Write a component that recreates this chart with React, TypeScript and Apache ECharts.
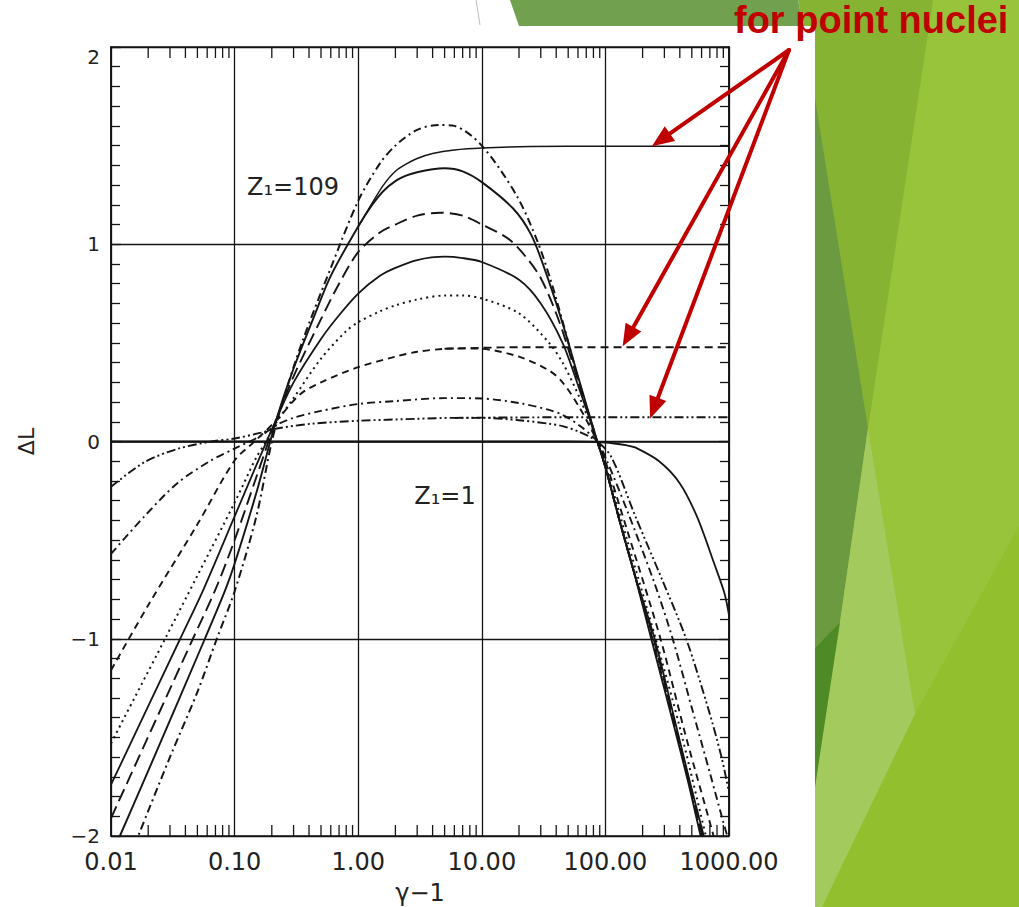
import React, { useEffect, useRef } from 'react';
import * as echarts from 'echarts';

// ---- tick labels ----
const xTickLabels = ['0.01', '0.10', '1.00', '10.00', '100.00', '1000.00'];
const yTickLabels = ['\u22122', '\u22121', '0', '1', '2'];
const xDecades = [0.01, 0.1, 1, 10, 100];
const xMinorMultipliers = [2, 3, 4, 5, 6, 7, 8, 9];

// ---- curves: [gamma-1, deltaL] ----
const zOne = [[0.01, 0], [1, 0], [50, 0], [100, -0.005], [150, -0.02], [174, -0.03], [272, -0.1], [398, -0.21], [550, -0.38], [760, -0.62], [920, -0.77], [1000, -0.88]];
const dashDotDot = [[0.01, -0.23], [0.0186, -0.105], [0.0347, -0.037], [0.065, 0], [0.1, 0.015], [0.164, 0.045], [0.22, 0.066], [0.42, 0.09], [1, 0.105], [3, 0.115], [6, 0.12], [10, 0.12], [20, 0.108], [35, 0.09], [45, 0.078], [62, 0.048], [86, 0], [112, -0.08], [175, -0.38], [292, -0.71], [450, -1.0], [676, -1.35], [870, -1.6], [1000, -1.78]];
const dashDot = [[0.01, -0.57], [0.0186, -0.38], [0.0346, -0.21], [0.0645, -0.096], [0.1, -0.036], [0.164, 0.03], [0.22, 0.085], [0.3, 0.12], [0.5, 0.155], [1, 0.19], [2, 0.205], [5, 0.22], [10, 0.218], [20, 0.195], [35, 0.16], [45, 0.135], [62, 0.08], [86, 0], [100, -0.08], [150, -0.35], [250, -0.72], [350, -1.0], [500, -1.35], [700, -1.68], [900, -1.93], [1000, -2.03]];
const dashed = [[0.01, -1.16], [0.02, -0.83], [0.05, -0.42], [0.1, -0.096], [0.145, 0], [0.22, 0.11], [0.34, 0.24], [0.5, 0.3], [1, 0.377], [2, 0.43], [3, 0.455], [5, 0.47], [7, 0.472], [10, 0.47], [20, 0.43], [35, 0.36], [45, 0.3], [62, 0.17], [86, 0], [100, -0.1], [150, -0.45], [279, -1.0], [450, -1.5], [750, -2.0], [800, -2.08]];
const dotted = [[0.01, -1.53], [0.0274, -1.0], [0.05, -0.68], [0.1, -0.31], [0.15, -0.08], [0.18, 0.0], [0.22, 0.1], [0.3, 0.22], [0.5, 0.42], [0.8, 0.56], [1, 0.605], [1.5, 0.66], [2, 0.69], [3, 0.72], [5, 0.74], [7, 0.74], [10, 0.725], [20, 0.65], [35, 0.5], [45, 0.4], [62, 0.22], [86, 0], [100, -0.12], [150, -0.5], [255, -1.0], [400, -1.45], [650, -2.0], [700, -2.08]];
const solidMid = [[0.01, -1.74], [0.0363, -1.0], [0.0556, -0.755], [0.1, -0.38], [0.15, -0.12], [0.22, 0.12], [0.3, 0.3], [0.5, 0.52], [0.7, 0.64], [1, 0.75], [1.5, 0.84], [2, 0.88], [3, 0.92], [5, 0.937], [7, 0.93], [10, 0.91], [20, 0.82], [30, 0.7], [45, 0.5], [62, 0.26], [86, 0], [100, -0.13], [130, -0.4], [170, -0.66], [250, -1.0], [360, -1.4], [480, -1.72], [625, -2.0], [680, -2.1]];
const longDash = [[0.01, -1.91], [0.046, -1.0], [0.0695, -0.755], [0.1, -0.5], [0.15, -0.18], [0.22, 0.12], [0.3, 0.33], [0.5, 0.62], [0.7, 0.8], [1, 0.96], [1.5, 1.06], [2, 1.1], [3, 1.145], [4.6, 1.16], [7, 1.145], [10, 1.1], [17, 1.02], [28, 0.86], [36, 0.72], [45, 0.56], [62, 0.28], [86, 0], [100, -0.13], [130, -0.4], [170, -0.66], [245, -1.0], [355, -1.4], [475, -1.72], [610, -2.0], [670, -2.1]];
const solidHigh = [[0.0105, -2.07], [0.0118, -2], [0.02, -1.67], [0.0575, -1.0], [0.0838, -0.755], [0.1, -0.62], [0.15, -0.26], [0.22, 0.12], [0.3, 0.37], [0.45, 0.65], [0.6, 0.84], [1, 1.09], [1.3, 1.2], [1.6, 1.27], [2, 1.32], [2.5, 1.35], [3, 1.365], [4, 1.38], [5, 1.385], [7, 1.37], [10, 1.315], [18, 1.18], [25, 1.05], [32, 0.88], [45, 0.6], [62, 0.3], [86, 0], [100, -0.13], [130, -0.4], [170, -0.66], [235, -1.0], [345, -1.4], [465, -1.72], [590, -2.0], [650, -2.1]];
const dashDotTop = [[0.0155, -2.05], [0.0166, -2], [0.03, -1.6], [0.05, -1.27], [0.0718, -1.0], [0.1, -0.76], [0.15, -0.38], [0.2, 0.0], [0.25, 0.22], [0.35, 0.5], [0.6, 0.88], [1, 1.22], [1.5, 1.41], [2, 1.5], [3, 1.58], [4.5, 1.605], [6, 1.6], [10, 1.5], [19, 1.25], [28, 1.02], [36, 0.82], [45, 0.61], [62, 0.29], [86, 0], [100, -0.13], [130, -0.4], [170, -0.66], [240, -1.0], [350, -1.4], [470, -1.72], [600, -2.0], [660, -2.1]];
// point-nuclei continuations
const pointLow = [[6, 0.12], [10, 0.121], [20, 0.122], [50, 0.123], [1000, 0.123]];
const pointMid = [[5, 0.47], [10, 0.475], [20, 0.478], [50, 0.478], [1000, 0.478]];
const pointHigh = [[1, 1.09], [1.3, 1.21], [1.6, 1.3], [2, 1.37], [2.5, 1.41], [3, 1.435], [4, 1.46], [6, 1.478], [10, 1.488], [25, 1.495], [100, 1.497], [1000, 1.497]];

// annotation anchors (data coords)
const arrowTargets = [[238, 1.497], [138, 0.483], [230, 0.117]];
const zLabels = [{ text: 'Z\u2081=109', at: [0.297, 1.288] }, { text: 'Z\u2081=1', at: [5.04, -0.274] }];

const INK = '#151515';
const RED = '#c00000';

const curveDefs = [
  { name: 'Z1=1', data: zOne, type: 'solid', width: 1.8 },
  { name: 'c2', data: dashDotDot, type: [9, 3, 2, 3, 2, 3], width: 1.9 },
  { name: 'c3', data: dashDot, type: [8, 4, 2, 4], width: 1.9 },
  { name: 'c4', data: dashed, type: [7, 5], width: 1.9 },
  { name: 'c5', data: dotted, type: [2, 4], width: 2 },
  { name: 'c6', data: solidMid, type: 'solid', width: 1.8 },
  { name: 'c7', data: longDash, type: [13, 6], width: 1.9 },
  { name: 'c8', data: solidHigh, type: 'solid', width: 1.9 },
  { name: 'c9', data: dashDotTop, type: [8, 4, 2, 4], width: 2 },
  { name: 'p2', data: pointLow, type: [9, 3, 2, 3, 2, 3], width: 1.9 },
  { name: 'p4', data: pointMid, type: [8, 5], width: 1.9 },
  { name: 'p8', data: pointHigh, type: 'solid', width: 1.5 },
];

const bgPolys = [
  { points: [[815, 0], [1019, 0], [1019, 907], [815, 907]], fill: '#92bf2e' },
  { points: [[933, 0], [1019, 0], [1019, 526], [915, 714], [890, 561], [868, 428]], fill: '#98c43c' },
  { points: [[798, 0], [933, 0], [868, 428], [815, 98], [815, 26], [803, 26]], fill: '#86b332' },
  { points: [[815, 98], [868, 428], [840, 622], [815, 648]], fill: '#6b9a41' },
  { points: [[868, 428], [890, 561], [915, 714], [822, 907], [815, 907], [815, 787], [840, 622]], fill: '#a2ca5d' },
  { points: [[815, 648], [840, 622], [815, 787]], fill: '#4e8a25' },
  { points: [[510, 0], [798, 0], [803, 26], [519, 26]], fill: '#71a04e' },
];

export default function App() {
  const ref = useRef<HTMLDivElement>(null);
  useEffect(() => {
    if (!ref.current) return;
    const chart = echarts.init(ref.current, undefined, { renderer: 'svg' });
    const xMinorTicks = xDecades.flatMap((d) => xMinorMultipliers.map((m) => +(d * m).toPrecision(3)));
    const font = 'DejaVu Sans';

    const yAxisBase = {
      type: 'value',
      min: -2,
      max: 2,
      interval: 1,
      axisLine: { show: true, lineStyle: { color: INK, width: 1.6 } },
      axisTick: { show: true, inside: true, length: 10, lineStyle: { color: INK, width: 1.3 } },
      minorTick: { show: true, splitNumber: 10, length: 9, lineStyle: { color: INK, width: 1.3 } },
    };

    const option: any = {
      animation: false,
      backgroundColor: '#ffffff',
      grid: { left: 111, top: 47, width: 618, height: 789, outerBoundsMode: 'none', containLabel: false, show: true, borderColor: INK, borderWidth: 1.6, backgroundColor: 'transparent' },
      xAxis: {
        type: 'log',
        logBase: 10,
        min: 0.01,
        max: 1000,
        axisLine: { show: true, lineStyle: { color: INK, width: 1.6 } },
        axisTick: { show: false },
        splitLine: { show: true, lineStyle: { color: INK, width: 1.3 } },
        axisLabel: {
          fontSize: 24,
          fontFamily: font,
          color: '#222',
          margin: 14,
          formatter: (v: number) => xTickLabels[Math.round(Math.log10(v)) + 2] ?? '',
        },
        name: '\u03b3\u22121',
        nameLocation: 'middle',
        nameGap: 45,
        nameTextStyle: { fontSize: 24, fontFamily: font, color: '#222' },
      },
      yAxis: [
        {
          ...yAxisBase,
          position: 'left',
          splitLine: { show: true, lineStyle: { color: INK, width: 1.3 } },
          axisLabel: {
            fontSize: 20,
            fontFamily: font,
            color: '#222',
            margin: 11,
            verticalAlignMaxLabel: 'top',
            formatter: (v: number) => yTickLabels[Math.round(v) + 2] ?? '',
          },
          name: '\u0394L',
          nameLocation: 'middle',
          nameRotate: 90,
          nameGap: 74,
          nameTextStyle: { fontSize: 22, fontFamily: font, color: '#222' },
        },
        {
          ...yAxisBase,
          position: 'right',
          splitLine: { show: false },
          axisLabel: { show: false },
        },
      ],
      series: [
        {
          type: 'custom',
          silent: true,
          clip: false,
          data: xMinorTicks.map((v) => [v, 0]),
          encode: { x: 0, y: 1 },
          renderItem: (_p: any, api: any) => {
            const v = api.value(0);
            const top = api.coord([v, 2]);
            const bot = api.coord([v, -2]);
            const st = { stroke: INK, lineWidth: 1.3 };
            return {
              type: 'group',
              children: [
                { type: 'line', shape: { x1: top[0], y1: top[1], x2: top[0], y2: top[1] + 11 }, style: st },
                { type: 'line', shape: { x1: bot[0], y1: bot[1], x2: bot[0], y2: bot[1] - 11 }, style: st },
              ],
            };
          },
        },
        ...curveDefs.map((c) => ({
          name: c.name,
          type: 'line',
          data: c.data,
          showSymbol: false,
          symbol: 'none',
          smooth: 0.3,
          clip: true,
          silent: true,
          lineStyle: { color: INK, width: c.width, type: c.type },
          z: 3,
        })),
      ],
    };
    chart.setOption(option);

    const toPx = (p: number[]) => chart.convertToPixel({ xAxisIndex: 0, yAxisIndex: 0 }, p) as number[];
    const origin = [789, 50];
    const graphics: any[] = [];
    bgPolys.forEach((p, i) => {
      graphics.push({ type: 'polygon', id: 'bg' + i, z: -10, silent: true, shape: { points: p.points }, style: { fill: p.fill } });
    });
    graphics.push({ type: 'line', id: 'grayline', z: -9, shape: { x1: 476, y1: 0, x2: 480, y2: 25 }, style: { stroke: '#bdbdbd', lineWidth: 1 } });
    zLabels.forEach((z, i) => {
      const p = toPx(z.at);
      graphics.push({ type: 'text', id: 'zl' + i, z: 10, style: { text: z.text, x: p[0], y: p[1], fill: '#222', font: '24px "DejaVu Sans"', textAlign: 'center', textVerticalAlign: 'middle' } });
    });
    arrowTargets.forEach((t, i) => {
      const tip = toPx(t);
      const dx = tip[0] - origin[0];
      const dy = tip[1] - origin[1];
      const len = Math.hypot(dx, dy);
      const ux = dx / len;
      const uy = dy / len;
      const headLen = 22;
      const headHalf = 9;
      const bx = tip[0] - ux * headLen;
      const by = tip[1] - uy * headLen;
      const nx = -uy;
      const ny = ux;
      graphics.push({ type: 'line', id: 'al' + i, z: 20, shape: { x1: origin[0], y1: origin[1], x2: bx + ux * 2, y2: by + uy * 2 }, style: { stroke: RED, lineWidth: 4, lineCap: 'round' } });
      graphics.push({ type: 'polygon', id: 'ah' + i, z: 20, shape: { points: [[tip[0], tip[1]], [bx + nx * headHalf, by + ny * headHalf], [bx - nx * headHalf, by - ny * headHalf]] }, style: { fill: RED } });
    });
    graphics.push({ type: 'text', id: 'title', z: 30, style: { text: 'for point nuclei', x: 734, y: 20, fill: RED, font: 'bold 38px "Liberation Sans", Arial, sans-serif', textAlign: 'left', textVerticalAlign: 'middle' } });
    chart.setOption({ graphic: graphics });

    return () => chart.dispose();
  }, []);
  return <div ref={ref} style={{ position: 'fixed', left: 0, top: 0, width: 1019, height: 907, background: '#fff' }} />;
}
